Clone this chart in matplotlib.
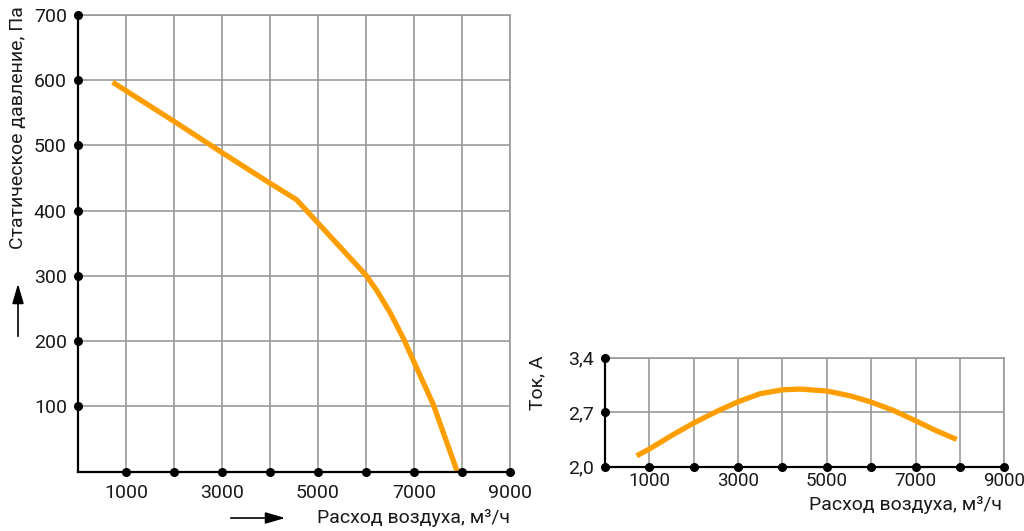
import matplotlib.pyplot as plt
from matplotlib.patches import FancyArrowPatch

plt.rcParams['font.family'] = ['Roboto', 'DejaVu Sans']

# -----------------------------
# Data
# -----------------------------
# pressure curve (left)
flow_p = [720, 2000, 3000, 4000, 4550, 5000, 5500, 6000, 6220,
          6500, 6780, 7000, 7400, 7900]
pressure = [597, 537, 489, 442, 417, 381, 341, 301, 278,
            244, 204, 168, 103, 0]

# current curve (right)
flow_i = [714, 1000, 1465, 2000, 2517, 3000, 3493, 4000, 4395, 5000,
          5522, 6000, 6500, 7000, 7475, 7927]
current = [2.14, 2.227, 2.389, 2.561, 2.71, 2.834, 2.937, 2.988, 2.997, 2.972,
           2.911, 2.83, 2.723, 2.59, 2.46, 2.35]

x_ticks = [1000, 2000, 3000, 4000, 5000, 6000, 7000, 8000, 9000]
x_labels = ["1000", "", "3000", "", "5000", "", "7000", "", "9000"]
p_ticks = [100, 200, 300, 400, 500, 600, 700]
i_ticks = [2.0, 2.7, 3.4]
i_labels = ["2,0", "2,7", "3,4"]

xlabel = "Расход воздуха, м³/ч"
ylabel_p = "Статическое давление, Па"
ylabel_i = "Ток, А"

ORANGE = "#ff9e00"
GRID = "#9a9a9a"
TXT = "#1a1a1a"
FS = 14

fig = plt.figure(figsize=(10.24, 5.31), dpi=100)
W, H = 1024, 531


def px(x, y):
    return x / W, 1 - y / H


def style(ax):
    ax.grid(True, color=GRID, linewidth=1.2)
    ax.set_axisbelow(True)
    for s in ("top", "right"):
        ax.spines[s].set_color(GRID)
        ax.spines[s].set_linewidth(1.2)
    for s in ("left", "bottom"):
        ax.spines[s].set_color("black")
        ax.spines[s].set_linewidth(1.6)
        ax.spines[s].set_zorder(4)
    ax.tick_params(length=0, labelsize=FS, colors=TXT)


# -----------------------------
# Left: static pressure
# -----------------------------
ax1 = fig.add_axes([78 / W, 1 - 471.5 / H, 432 / W, 456.5 / H])
ax1.plot(flow_p, pressure, color=ORANGE, linewidth=3.8, zorder=3,
         solid_capstyle="butt", solid_joinstyle="round")
ax1.set_xlim(0, 9000)
ax1.set_ylim(0, 700)
ax1.set_xticks(x_ticks)
ax1.set_xticklabels(x_labels)
ax1.set_yticks(p_ticks)
style(ax1)
ax1.tick_params(axis="x", pad=9)
ax1.tick_params(axis="y", pad=8)
ax1.plot(x_ticks, [0] * len(x_ticks), "o", color="black", ms=5.5,
         clip_on=False, zorder=5)
ax1.plot([0] * len(p_ticks), p_ticks, "o", color="black", ms=5.5,
         clip_on=False, zorder=5)

# -----------------------------
# Right: current
# -----------------------------
ax2 = fig.add_axes([605 / W, 1 - 466.7 / H, 399.3 / W, 109 / H])
ax2.plot(flow_i, current, color=ORANGE, linewidth=3.8, zorder=3,
         solid_capstyle="butt", solid_joinstyle="round")
ax2.set_xlim(0, 9000)
ax2.set_ylim(2.0, 3.4)
ax2.set_xticks(x_ticks)
ax2.set_xticklabels(x_labels)
ax2.set_yticks(i_ticks)
ax2.set_yticklabels(i_labels)
style(ax2)
ax2.tick_params(axis="x", pad=4, labelsize=13.5)
ax2.tick_params(axis="y", pad=8)
ax2.plot(x_ticks, [2.0] * len(x_ticks), "o", color="black", ms=5.5,
         clip_on=False, zorder=5)
ax2.plot([0] * len(i_ticks), i_ticks, "o", color="black", ms=5.5,
         clip_on=False, zorder=5)

# -----------------------------
# Axis titles and arrows
# -----------------------------
fig.text(*px(18, 128), ylabel_p, rotation=90, ha="center", va="center",
         fontsize=FS, color=TXT)
fig.text(*px(510, 518), xlabel, ha="right", va="center",
         fontsize=FS, color=TXT)
fig.text(*px(1002, 505), xlabel, ha="right", va="center",
         fontsize=FS, color=TXT)
fig.text(*px(537, 383), ylabel_i, rotation=90, ha="center", va="center",
         fontsize=FS, color=TXT)

for start, end in [((228, 518), (288, 518)), ((18, 339), (18, 281))]:
    fig.add_artist(FancyArrowPatch(
        px(*start), px(*end), transform=fig.transFigure,
        arrowstyle="-|>,head_length=1.2,head_width=0.35",
        mutation_scale=10, color="black", lw=1.2))

fig.savefig("out.png", dpi=100)
